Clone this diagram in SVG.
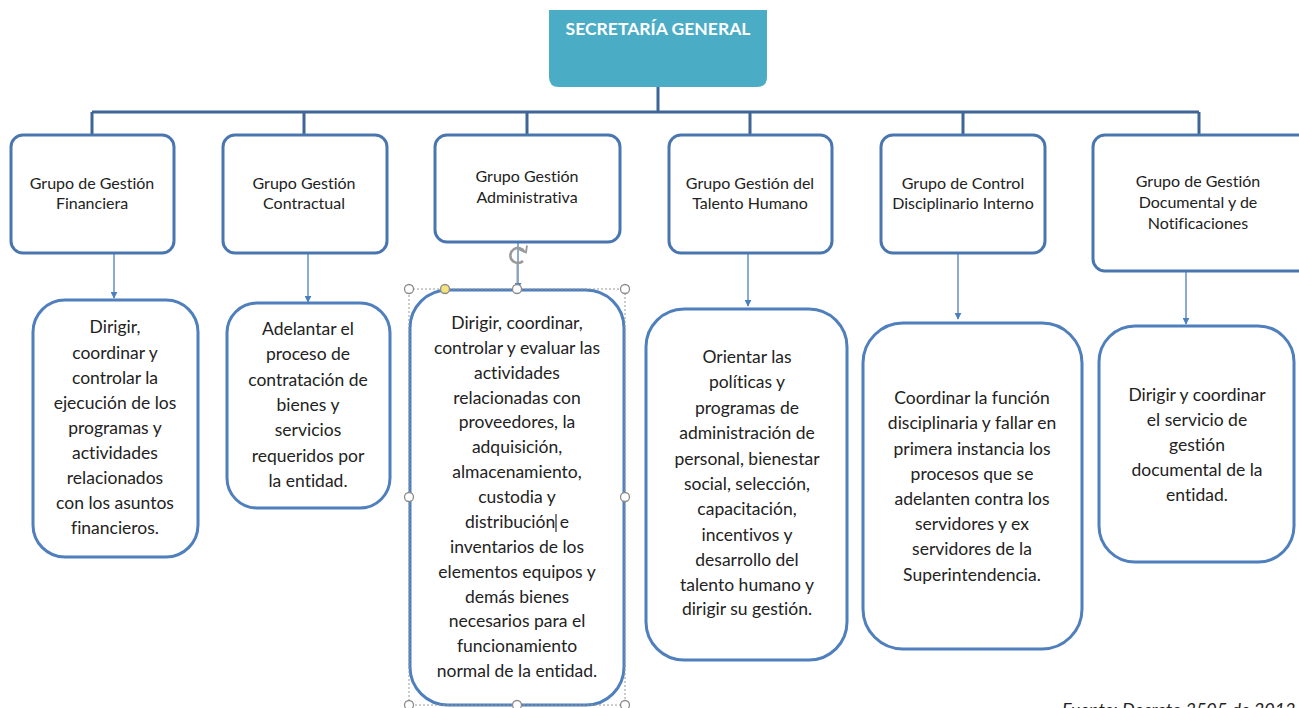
<svg xmlns="http://www.w3.org/2000/svg" width="1299" height="708" viewBox="0 0 1299 708">
<style>
text{font-variant-ligatures:none}
.grp{fill:#fff;stroke:#4A76B0;stroke-width:3}
.desc{fill:#fff;stroke:#4F7FBC;stroke-width:3}
.gt{font-family:Lato,"Liberation Sans",sans-serif;font-size:16px;fill:#222;text-anchor:middle}
.dt{font-family:Lato,"Liberation Sans",sans-serif;font-size:17.5px;fill:#222;text-anchor:middle}
.conn{fill:none;stroke:#3F6597;stroke-width:3}
.arr{fill:none;stroke:#4A7FC0;stroke-width:1.3}
.hd{fill:#fff;stroke:#8c8c8c;stroke-width:1.3}
</style>
<defs>
<marker id="ah" viewBox="0 0 10 10" refX="9" refY="5" markerWidth="7" markerHeight="7" orient="auto" markerUnits="userSpaceOnUse">
<path d="M0,0 L10,5 L0,10 z" fill="#4A7FC0"/>
</marker>
</defs>
<rect width="1299" height="708" fill="#fff"/>

<g id="connectors">
<path class="conn" d="M658,87 V112 M92,112 H1199 M92,112 V135 M304,112 V135 M527,112 V135 M750,112 V135 M963,112 V135 M1199,112 V135"/>
<line class="arr" x1="114" y1="247" x2="114" y2="298" marker-end="url(#ah)"/>
<line class="arr" x1="308" y1="249" x2="308" y2="302" marker-end="url(#ah)"/>
<line class="arr" x1="518" y1="242" x2="518" y2="289" marker-end="url(#ah)"/>
<line class="arr" x1="748" y1="249" x2="748" y2="306" marker-end="url(#ah)"/>
<line class="arr" x1="958" y1="249" x2="958" y2="319" marker-end="url(#ah)"/>
<line class="arr" x1="1186" y1="267" x2="1186" y2="324" marker-end="url(#ah)"/>
</g>

<g id="secretaria">
<path d="M549,10 H767 V77 Q767,87 757,87 H559 Q549,87 549,77 Z" fill="#4BACC6"/>
<text x="658" y="35" font-family="Lato,'Liberation Sans',sans-serif" font-size="17.5" font-weight="bold" fill="#fff" text-anchor="middle">SECRETARÍA GENERAL</text>
</g>

<g id="g1">
<rect class="grp" x="11" y="135" width="163" height="118" rx="12"/>
<text class="gt" x="92" y="189">Grupo de Gestión</text>
<text class="gt" x="92" y="209">Financiera</text>
</g>
<g id="g2">
<rect class="grp" x="223" y="135" width="164" height="118" rx="12"/>
<text class="gt" x="304" y="189">Grupo Gestión</text>
<text class="gt" x="304" y="209">Contractual</text>
</g>
<g id="g3">
<rect class="grp" x="435" y="135" width="185" height="107" rx="12"/>
<text class="gt" x="527" y="182">Grupo Gestión</text>
<text class="gt" x="527" y="203">Administrativa</text>
</g>
<g id="g4">
<rect class="grp" x="669" y="135" width="163" height="118" rx="12"/>
<text class="gt" x="750" y="189">Grupo Gestión del</text>
<text class="gt" x="750" y="209">Talento Humano</text>
</g>
<g id="g5">
<rect class="grp" x="881" y="135" width="164" height="118" rx="12"/>
<text class="gt" x="963" y="189">Grupo de Control</text>
<text class="gt" x="963" y="209">Disciplinario Interno</text>
</g>
<g id="g6">
<rect class="grp" x="1093" y="135" width="230" height="136" rx="12"/>
<text class="gt" x="1198" y="187">Grupo de Gestión</text>
<text class="gt" x="1198" y="208">Documental y de</text>
<text class="gt" x="1198" y="229">Notificaciones</text>
</g>

<g id="d1">
<rect class="desc" x="33" y="300" width="165" height="257" rx="32"/>
<text class="dt" x="115" y="333">Dirigir,</text>
<text class="dt" x="115" y="359">coordinar y</text>
<text class="dt" x="115" y="384">controlar la</text>
<text class="dt" x="115" y="409">ejecución de los</text>
<text class="dt" x="115" y="434">programas y</text>
<text class="dt" x="115" y="459">actividades</text>
<text class="dt" x="115" y="484">relacionados</text>
<text class="dt" x="115" y="509">con los asuntos</text>
<text class="dt" x="115" y="534">financieros.</text>
</g>
<g id="d2">
<rect class="desc" x="227" y="303" width="163" height="205" rx="30"/>
<text class="dt" x="308" y="335">Adelantar el</text>
<text class="dt" x="308" y="360">proceso de</text>
<text class="dt" x="308" y="386">contratación de</text>
<text class="dt" x="308" y="411">bienes y</text>
<text class="dt" x="308" y="436">servicios</text>
<text class="dt" x="308" y="462">requeridos por</text>
<text class="dt" x="308" y="487">la entidad.</text>
</g>
<g id="d3">
<rect class="desc" x="410" y="290" width="214" height="415" rx="38"/>
<text class="dt" x="517" y="329">Dirigir, coordinar,</text>
<text class="dt" x="517" y="354">controlar y evaluar las</text>
<text class="dt" x="517" y="379">actividades</text>
<text class="dt" x="517" y="404">relacionadas con</text>
<text class="dt" x="517" y="428">proveedores, la</text>
<text class="dt" x="517" y="453">adquisición,</text>
<text class="dt" x="517" y="478">almacenamiento,</text>
<text class="dt" x="517" y="503">custodia y</text>
<text class="dt" x="517" y="528">distribución e</text>
<text class="dt" x="517" y="553">inventarios de los</text>
<text class="dt" x="517" y="578">elementos equipos y</text>
<text class="dt" x="517" y="603">demás bienes</text>
<text class="dt" x="517" y="627">necesarios para el</text>
<text class="dt" x="517" y="652">funcionamiento</text>
<text class="dt" x="517" y="677">normal de la entidad.</text>
<line x1="556" y1="514" x2="556" y2="532" stroke="#000" stroke-width="1"/>
</g>
<g id="selection">
<rect x="409" y="289" width="216" height="416" fill="none" stroke="#999" stroke-width="1" stroke-dasharray="2,2"/>
<line x1="517" y1="263" x2="517" y2="289" stroke="#999" stroke-width="1"/>
<path d="M524.5,252 A7.5,7.5 0 1 0 523,261" fill="none" stroke="#9a9a9a" stroke-width="2.6"/>
<path d="M519,249.5 L526,252.5 L527,245.5" fill="none" stroke="#9a9a9a" stroke-width="1.8"/>
<circle class="hd" cx="409" cy="289" r="4.5"/>
<circle cx="445" cy="289" r="4.5" fill="#F5E27A" stroke="#8c8c8c" stroke-width="1.3"/>
<circle class="hd" cx="517" cy="289" r="4.5"/>
<circle class="hd" cx="625" cy="289" r="4.5"/>
<circle class="hd" cx="409" cy="497" r="4.5"/>
<circle class="hd" cx="625" cy="497" r="4.5"/>
<circle class="hd" cx="409" cy="705" r="4.5"/>
<circle class="hd" cx="517" cy="705" r="4.5"/>
<circle class="hd" cx="625" cy="705" r="4.5"/>
</g>
<g id="d4">
<rect class="desc" x="646" y="309" width="201" height="351" rx="38"/>
<text class="dt" x="747" y="363">Orientar las</text>
<text class="dt" x="747" y="388">políticas y</text>
<text class="dt" x="747" y="414">programas de</text>
<text class="dt" x="747" y="439">administración de</text>
<text class="dt" x="747" y="465">personal, bienestar</text>
<text class="dt" x="747" y="490">social, selección,</text>
<text class="dt" x="747" y="515">capacitación,</text>
<text class="dt" x="747" y="541">incentivos y</text>
<text class="dt" x="747" y="566">desarrollo del</text>
<text class="dt" x="747" y="591">talento humano y</text>
<text class="dt" x="747" y="615">dirigir su gestión.</text>
</g>
<g id="d5">
<rect class="desc" x="863" y="323" width="219" height="326" rx="40"/>
<text class="dt" x="972" y="404">Coordinar la función</text>
<text class="dt" x="972" y="429">disciplinaria y fallar en</text>
<text class="dt" x="972" y="455">primera instancia los</text>
<text class="dt" x="972" y="480">procesos que se</text>
<text class="dt" x="972" y="505">adelanten contra los</text>
<text class="dt" x="972" y="530">servidores y ex</text>
<text class="dt" x="972" y="555">servidores de la</text>
<text class="dt" x="972" y="581">Superintendencia.</text>
</g>
<g id="d6">
<rect class="desc" x="1099" y="326" width="195" height="236" rx="36"/>
<text class="dt" x="1197" y="401">Dirigir y coordinar</text>
<text class="dt" x="1197" y="426">el servicio de</text>
<text class="dt" x="1197" y="451">gestión</text>
<text class="dt" x="1197" y="476">documental de la</text>
<text class="dt" x="1197" y="501">entidad.</text>
</g>
<text x="1062" y="716" font-family="Lato,'Liberation Sans',sans-serif" font-size="18" font-style="italic" fill="#222">Fuente: Decreto 3505 de 2013</text>
</svg>
